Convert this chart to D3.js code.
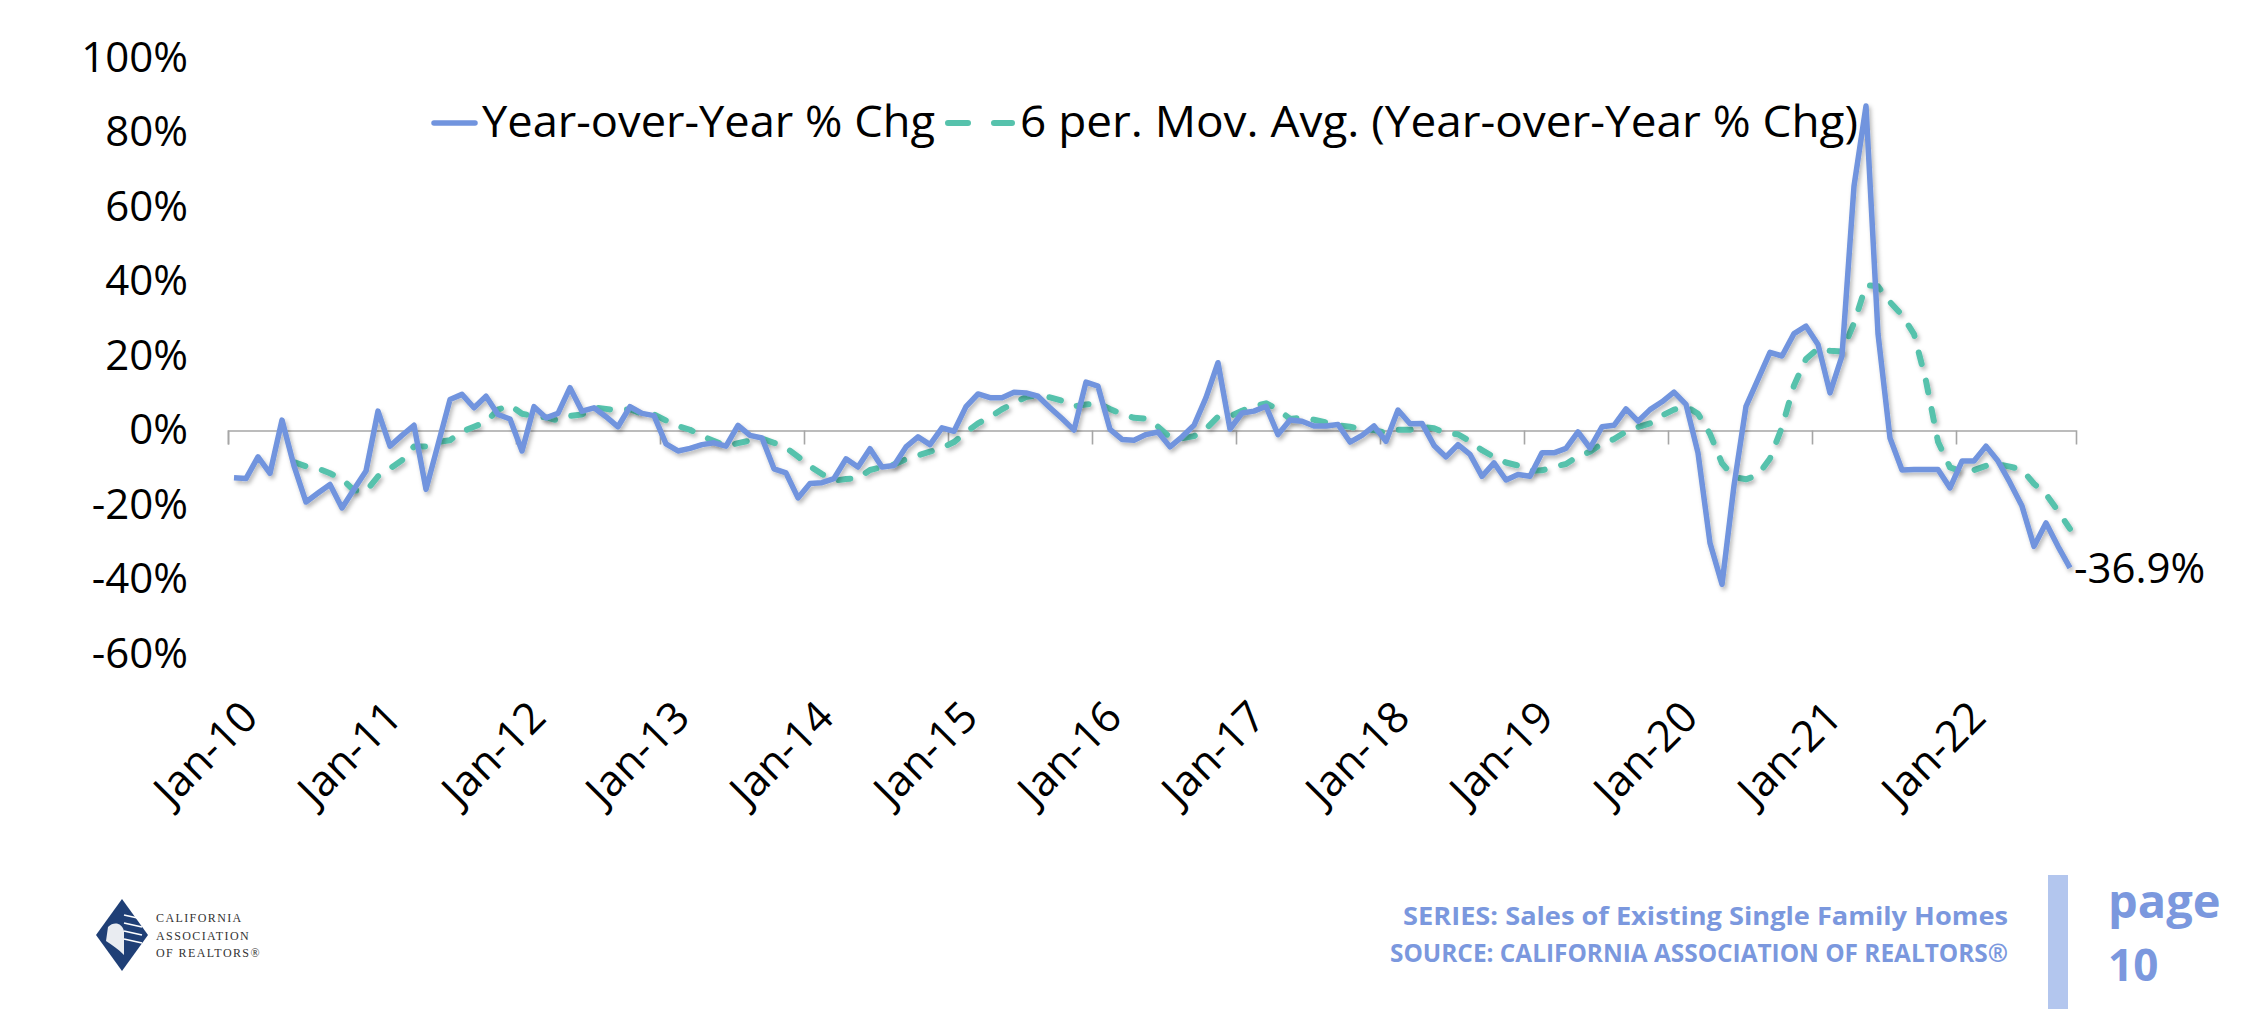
<!DOCTYPE html>
<html>
<head>
<meta charset="utf-8">
<script src="https://cdn.jsdelivr.net/npm/d3@7"></script>
<style>
  body { margin: 0; background: #fff; }
  svg text { font-family: "Open Sans", Lato, sans-serif; }
</style>
</head>
<body>
<div id="chart"></div>
<script>
const width = 2258;
const height = 1009;

// Year-over-Year % Chg, monthly Jan-10 .. Oct-22
const yoy = [
  -12.7, -12.9, -7.1, -11.5, 2.8, -9.5, -19.2, -16.8, -14.5, -20.8, -15.8, -10.9,
  5.2, -4.2, -1.3, 1.4, -15.8, -3.8, 8.3, 9.7, 6.1, 9.2, 4.3, 3.1,
  -5.5, 6.4, 3.4, 4.6, 11.5, 5.2, 6.1, 3.7, 1.0, 6.4, 4.6, 4.0,
  -3.6, -5.5, -4.8, -3.8, -3.3, -4.2, 1.4, -1.3, -2.0, -10.3, -11.4, -18.1,
  -14.2, -14.0, -12.9, -7.6, -9.8, -4.9, -9.8, -9.4, -4.4, -1.7, -3.8, 0.7,
  -0.2, 6.4, 9.8, 8.8, 8.8, 10.3, 10.1, 9.2, 6.1, 3.2, 0.1, 13.0,
  11.9, 0.3, -2.4, -2.6, -1.1, -0.4, -4.4, -1.7, 1.4, 8.8, 18.2, 0.4,
  4.7, 5.2, 6.5, -1.1, 2.8, 2.5, 1.2, 1.2, 1.6, -3.1, -1.3, 1.2,
  -2.9, 5.5, 1.8, 1.9, -4.0, -7.1, -3.8, -6.4, -12.3, -8.7, -13.3, -11.8,
  -12.3, -6.0, -6.0, -4.8, -0.4, -4.7, 1.0, 1.4, 5.8, 2.5, 5.6, 7.7,
  10.3, 7.0, -6.0, -30.2, -41.3, -14.8, 6.5, 13.7, 21.0, 20.0, 26.0, 28.0,
  23.1, 10.1, 20.0, 65.6, 87.1, 26.0, -2.0, -10.6, -10.5, -10.5, -10.5, -15.4,
  -8.2, -8.2, -4.2, -8.2, -14.0, -20.3, -31.1, -24.8, -31.1, -36.9
];

// 6 per. Mov. Avg. (first value shown at Jun-10)
const movAvg = [
  null, null, null, null, null, -8.5, -9.6, -10.2, -11.5, -13.0, -16.1, -16.3,
  -12.3, -10.2, -8.0, -4.3, -4.3, -3.1, -2.6, -0.3, 1.0, 2.3, 5.6, 6.8,
  4.5, 3.9, 3.5, 2.7, 3.9, 4.3, 6.2, 5.8, 5.4, 5.7, 4.5, 4.3,
  2.7, 1.2, 0.2, -1.5, -2.8, -4.2, -3.4, -2.7, -2.2, -3.3, -4.6, -7.0,
  -9.6, -11.7, -13.5, -13.0, -12.8, -10.6, -9.8, -9.1, -7.7, -6.7, -5.7, -4.7,
  -3.1, -0.5, 1.9, 3.6, 5.7, 7.3, 9.0, 9.5, 8.9, 8.0, 6.5, 7.0,
  7.3, 5.8, 4.4, 3.4, 3.2, 1.0, -1.8, -2.1, -1.5, 0.4, 3.7, 3.8,
  5.3, 6.5, 7.3, 5.7, 3.1, 3.4, 2.9, 2.2, 1.4, 1.0, 0.4, 0.1,
  -0.6, 0.2, 0.2, 1.0, 0.6, -0.8, -1.0, -2.9, -5.3, -7.1, -8.6, -9.4,
  -10.8, -10.7, -9.7, -9.0, -6.9, -5.7, -3.5, -2.3, -0.3, 0.9, 1.9, 4.0,
  5.6, 6.5, 4.5, -0.9, -8.8, -12.5, -13.1, -12.0, -7.5, 0.9, 12.1, 19.2,
  22.0, 21.4, 21.2, 28.8, 39.0, 38.7, 34.5, 31.0, 25.9, 13.3, -3.0, -9.9,
  -11.0, -10.6, -9.5, -9.1, -9.7, -10.5, -14.3, -17.1, -21.6, -26.4
];

const months = d3.timeMonth.range(new Date(2010, 0, 1), new Date(2022, 10, 1));
const yTicks = [-60, -40, -20, 0, 20, 40, 60, 80, 100];
const yearLabels = ["Jan-10", "Jan-11", "Jan-12", "Jan-13", "Jan-14", "Jan-15", "Jan-16",
  "Jan-17", "Jan-18", "Jan-19", "Jan-20", "Jan-21", "Jan-22"];
const seriesNames = ["Year-over-Year % Chg", "6 per. Mov. Avg. (Year-over-Year % Chg)"];
const lastLabel = "-36.9%";
const footerLines = ["SERIES: Sales of Existing Single Family Homes",
  "SOURCE: CALIFORNIA ASSOCIATION OF REALTORS\u00AE"];
const logoLines = ["CALIFORNIA", "ASSOCIATION", "OF REALTORS\u00AE"];

const blue = "#7194de";
const teal = "#56c2ac";
const footBlue = "#7b98de";
const dash = "12,17";

const svg = d3.select("#chart").append("svg")
  .attr("width", width)
  .attr("height", height)
  .style("display", "block");

const defs = svg.append("defs");
defs.append("filter")
  .attr("id", "shadow")
  .attr("x", "-5%").attr("y", "-5%").attr("width", "110%").attr("height", "110%")
  .append("feDropShadow")
  .attr("dx", 2).attr("dy", 3).attr("stdDeviation", 2)
  .attr("flood-color", "#000").attr("flood-opacity", 0.28);

// scales
const x = d3.scaleBand().domain(d3.range(months.length)).range([228, 2076]);
const cx = (i) => x(i) + x.bandwidth() / 2;
const xEdge = d3.scaleLinear().domain([0, months.length]).range([228, 2076]);
const y = d3.scaleLinear().domain([-60, 100]).range([654, 58]);

// zero line + year ticks
const xAxis = svg.append("g")
  .attr("transform", `translate(0,${y(0)})`)
  .call(d3.axisBottom(xEdge)
    .tickValues(yearLabels.map((d, k) => k * 12))
    .tickFormat("")
    .tickSizeOuter(0)
    .tickSize(14));
xAxis.select(".domain").attr("stroke", "#a6a6a6").attr("stroke-width", 1.6);
xAxis.selectAll(".tick line").attr("stroke", "#a6a6a6").attr("stroke-width", 1.6);

// rotated year labels
const xLab = d3.scaleLinear().domain([0, months.length - 1]).range([cx(0) + 15, cx(months.length - 1) + 15]);
const xLabels = svg.append("g")
  .attr("transform", "translate(0,709)")
  .call(d3.axisBottom(xLab)
    .tickValues(yearLabels.map((d, k) => k * 12))
    .tickFormat((d) => yearLabels[d / 12])
    .tickSize(0));
xLabels.select(".domain").remove();
xLabels.selectAll("text")
  .attr("x", 0).attr("y", 0).attr("dy", "0.35em")
  .attr("transform", "rotate(-45)")
  .style("text-anchor", "end")
  .style("font-size", "43px")
  .style("fill", "#000");

// y labels
const yAxis = svg.append("g")
  .attr("transform", "translate(188,0)")
  .call(d3.axisLeft(y).tickValues(yTicks).tickFormat((d) => d + "%").tickSize(0).tickPadding(0));
yAxis.select(".domain").remove();
yAxis.selectAll("text")
  .style("font-size", "42px")
  .style("fill", "#000");

// series
const line = d3.line()
  .defined((d) => d != null)
  .x((d, i) => cx(i))
  .y((d) => y(d));

svg.append("path")
  .datum(movAvg)
  .attr("d", line)
  .attr("fill", "none")
  .attr("stroke", teal)
  .attr("stroke-width", 6)
  .attr("stroke-dasharray", dash)
  .attr("stroke-linecap", "round")
  .attr("stroke-linejoin", "round")
  .attr("filter", "url(#shadow)");

svg.append("path")
  .datum(yoy)
  .attr("d", line)
  .attr("fill", "none")
  .attr("stroke", blue)
  .attr("stroke-width", 5.5)
  .attr("stroke-linejoin", "round")
  .attr("filter", "url(#shadow)");

// last value label
const last = yoy.length - 1;
svg.append("text")
  .attr("x", cx(last) + 4)
  .attr("y", y(yoy[last]))
  .attr("dy", "0.35em")
  .style("font-size", "42px")
  .text(lastLabel);

// legend
const legend = svg.append("g");
legend.append("line")
  .attr("x1", 434).attr("x2", 475).attr("y1", 123).attr("y2", 123)
  .attr("stroke", blue).attr("stroke-width", 5.5).attr("stroke-linecap", "round");
legend.append("text")
  .attr("x", 482).attr("y", 137)
  .attr("textLength", 453).attr("lengthAdjust", "spacingAndGlyphs")
  .style("font-size", "43px")
  .text(seriesNames[0]);
legend.append("line")
  .attr("x1", 948).attr("x2", 1012).attr("y1", 123).attr("y2", 123)
  .attr("stroke", teal).attr("stroke-width", 6)
  .attr("stroke-dasharray", "20,26").attr("stroke-linecap", "round");
legend.append("text")
  .attr("x", 1020).attr("y", 137)
  .attr("textLength", 838).attr("lengthAdjust", "spacingAndGlyphs")
  .style("font-size", "43px")
  .text(seriesNames[1]);

// footer
const foot = svg.append("g").style("font-weight", "bold").style("fill", footBlue);
foot.selectAll("text.src")
  .data(footerLines)
  .join("text")
  .attr("class", "src")
  .attr("x", 2008)
  .attr("y", (d, i) => 925 + i * 37)
  .attr("text-anchor", "end")
  .attr("textLength", (d, i) => i ? 618 : 605)
  .attr("lengthAdjust", "spacingAndGlyphs")
  .style("font-size", "25px")
  .text((d) => d);

svg.append("rect")
  .attr("x", 2048).attr("y", 875).attr("width", 20).attr("height", height - 875)
  .attr("fill", "#b3c6ee");

foot.append("text").attr("x", 2108).attr("y", 918).style("font-size", "47px").text("page");
foot.append("text").attr("x", 2108).attr("y", 981).style("font-size", "44px").text("10");

// logo
const logo = svg.append("g").attr("transform", "translate(122,935)");
logo.append("path")
  .attr("d", "M0,-36 L26,0 L0,36 L-26,0 Z")
  .attr("fill", "#1f3f76");
[-14, -6, 2, 10].forEach((o) => {
  logo.append("line")
    .attr("x1", 2).attr("y1", o - 6).attr("x2", 20).attr("y2", o - 2)
    .attr("stroke", "#fff").attr("stroke-width", 1.6);
});
logo.append("path")
  .attr("d", "M-14,-8 C-8,-14 0,-12 2,-4 L2,20 C-4,14 -10,10 -16,6 Z")
  .attr("fill", "#fff").attr("opacity", 0.9);
svg.append("g")
  .selectAll("text")
  .data(logoLines)
  .join("text")
  .attr("x", 156)
  .attr("y", (d, i) => 922 + i * 17.5)
  .style("font-family", "'Liberation Serif', 'DejaVu Serif', serif")
  .style("font-size", "12px")
  .style("letter-spacing", "1.4px")
  .style("fill", "#333")
  .text((d) => d);
</script>
</body>
</html>
